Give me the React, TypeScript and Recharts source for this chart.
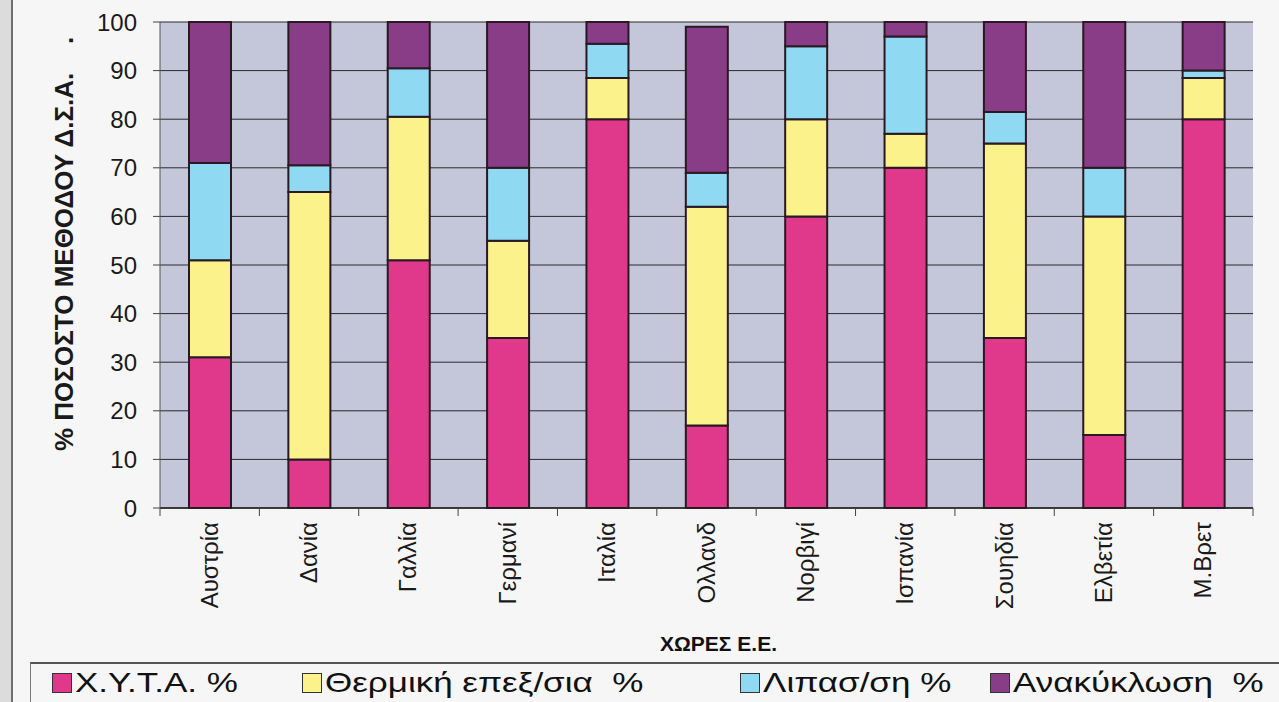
import { Bar, BarChart, CartesianGrid, Label, Legend, XAxis, YAxis } from "recharts";

// countries (EU) and share of each waste-treatment method, %
const countries = [
  "Αυστρία",
  "Δανία",
  "Γαλλία",
  "Γερμανί",
  "Ιταλία",
  "Ολλανδ",
  "Νορβιγί",
  "Ισπανία",
  "Σουηδία",
  "Ελβετία",
  "Μ.Βρετ"
];
const landfill = [31, 10, 51, 35, 80, 17, 60, 70, 35, 15, 80];
const thermal = [20, 55, 29.5, 20, 8.5, 45, 20, 7, 40, 45, 8.5];
const compost = [20, 5.5, 10, 15, 7, 7, 15, 20, 6.5, 10, 1.5];
const recycling = [29, 29.5, 9.5, 30, 4.5, 30, 5, 3, 18.5, 30, 10];

const yTicks = [0, 10, 20, 30, 40, 50, 60, 70, 80, 90, 100];

const series = [
  { key: "landfill", name: "Χ.Υ.Τ.Α. %", color: "#e0398b" },
  { key: "thermal", name: "Θερμική επεξ/σια  %", color: "#fbf28c" },
  { key: "compost", name: "Λιπασ/ση %", color: "#8fdaf2" },
  { key: "recycling", name: "Ανακύκλωση  %", color: "#8a3d87" }
];

const rows = countries.map((country, i) => ({
  country,
  landfill: landfill[i],
  thermal: thermal[i],
  compost: compost[i],
  recycling: recycling[i]
}));

const W = 1279;
const H = 702;
const PLOT_LEFT = 160;
const PLOT_RIGHT = 1253;
const BAND = (PLOT_RIGHT - PLOT_LEFT) / countries.length;
const LEGEND_X = [52, 302, 740, 990];
const FONT = '"Liberation Sans", Arial, Helvetica, sans-serif';

const CountryTick = (props: any) => {
  const { x, y, payload, index } = props;
  const tx = x + 8;
  const ty = y + 14;
  return (
    <g>
      <line x1={x - BAND / 2} x2={x - BAND / 2} y1={y} y2={y + 8} stroke="#444" />
      {index === countries.length - 1 && (
        <line x1={x + BAND / 2} x2={x + BAND / 2} y1={y} y2={y + 8} stroke="#444" />
      )}
      <text
        x={tx}
        y={ty}
        transform={`rotate(-90 ${tx} ${ty})`}
        textAnchor="end"
        fontSize={24}
        fontFamily={FONT}
        fill="#1a1a1a"
      >
        {payload.value}
      </text>
    </g>
  );
};

// legend keeps the series order (landfill first), text drawn a little wide
const LegendRow = () => (
  <div style={{ position: "relative", width: W, height: 40, fontFamily: FONT }}>
    <div
      style={{
        position: "absolute",
        left: 30,
        right: 0,
        top: 0,
        height: 40,
        borderTop: "2px solid #555",
        borderLeft: "1px solid #777"
      }}
    />
    {series.map((s, i) => (
      <div
        key={s.key}
        style={{
          position: "absolute",
          left: LEGEND_X[i],
          top: 5,
          display: "flex",
          alignItems: "center",
          color: "#111",
          whiteSpace: "pre"
        }}
      >
        <span
          style={{
            display: "inline-block",
            width: 18,
            height: 18,
            marginRight: 3,
            background: s.color,
            border: "1.5px solid #333"
          }}
        />
        <span
          style={{
            display: "inline-block",
            fontSize: 28,
            transform: "scaleX(1.25)",
            transformOrigin: "left center"
          }}
        >
          {s.name}
        </span>
      </div>
    ))}
  </div>
);

export default function App() {
  return (
    <div
      style={{
        position: "absolute",
        left: 0,
        top: 0,
        width: W,
        height: H,
        background: "#f6f6f6",
        overflow: "hidden"
      }}
    >
      <div
        style={{
          position: "absolute",
          left: 0,
          top: 0,
          width: 11,
          height: H,
          background: "#dcdcdc",
          borderRight: "2px solid #6e6e6e"
        }}
      />
      <BarChart
        width={W}
        height={H}
        data={rows}
        barSize={42}
        margin={{ top: 22, right: W - PLOT_RIGHT, bottom: 0, left: 0 }}
      >
        <CartesianGrid vertical={false} stroke="#2a2a2a" fill="#c4c7da" fillOpacity={1} />
        <XAxis
          dataKey="country"
          interval={0}
          height={154}
          tickSize={0}
          tickMargin={0}
          tickLine={false}
          axisLine={{ stroke: "#222", strokeWidth: 1.5 }}
          tick={<CountryTick />}
        >
          <Label
            content={({ viewBox }: any) => (
              <text
                x={viewBox.x + viewBox.width / 2 + 12}
                y={viewBox.y + 143}
                textAnchor="middle"
                fontSize={21}
                fontWeight="bold"
                fontFamily={FONT}
                fill="#111"
              >
                ΧΩΡΕΣ Ε.Ε.
              </text>
            )}
          />
        </XAxis>
        <YAxis
          width={PLOT_LEFT}
          domain={[0, 100]}
          ticks={yTicks}
          interval={0}
          tickSize={7}
          tickMargin={16}
          tick={{ fontSize: 24, fill: "#1a1a1a", fontFamily: FONT }}
          tickLine={{ stroke: "#444" }}
          axisLine={{ stroke: "#555" }}
        >
          <Label
            content={({ viewBox }: any) => {
              const lx = viewBox.x + 73;
              const ly = 451;
              return (
                <text
                  x={lx}
                  y={ly}
                  transform={`rotate(-90 ${lx} ${ly})`}
                  textAnchor="start"
                  fontSize={26}
                  fontWeight="bold"
                  fontFamily={FONT}
                  fill="#1a1a1a"
                  style={{ whiteSpace: "pre" }}
                >
                  {"% ΠΟΣΟΣΤΟ ΜΕΘΟΔΟΥ Δ.Σ.Α.    ."}
                </text>
              );
            }}
          />
        </YAxis>
        <YAxis
          yAxisId="frame"
          orientation="right"
          width={0}
          tick={false}
          tickLine={false}
          axisLine={{ stroke: "#8c8c8c" }}
        />
        <Legend
          verticalAlign="bottom"
          content={<LegendRow />}
          wrapperStyle={{ left: 0, bottom: 0, width: W, height: 40 }}
        />
        {series.map((s) => (
          <Bar
            key={s.key}
            dataKey={s.key}
            name={s.name}
            stackId="methods"
            fill={s.color}
            stroke="#2a1822"
            strokeWidth={2}
            isAnimationActive={false}
          />
        ))}
      </BarChart>
    </div>
  );
}
